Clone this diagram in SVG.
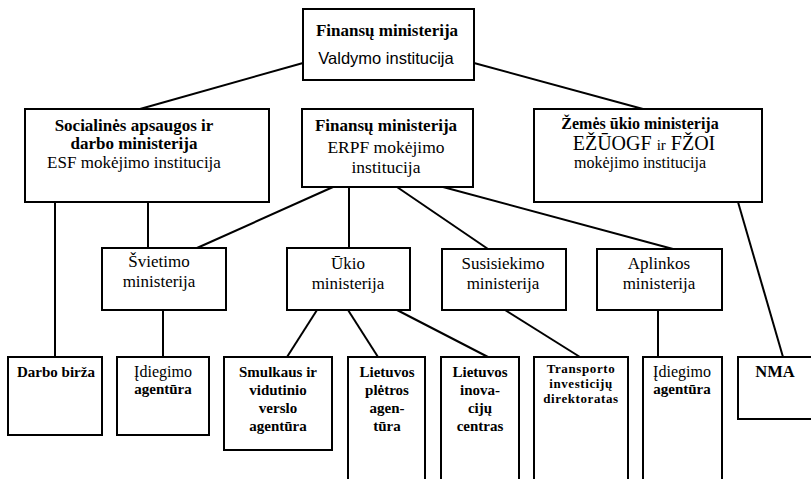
<svg xmlns="http://www.w3.org/2000/svg" width="811" height="479" viewBox="0 0 811 479">
<style>
.box{fill:#fff;stroke:#000;stroke-width:2}
.open{fill:none;stroke:#000;stroke-width:2}
.ln{stroke:#000;stroke-width:2;fill:none}
text{font-family:"Liberation Serif","Times New Roman",serif;text-anchor:middle;fill:#000}
.b{font-weight:bold}
.l{font-size:17px}
.s{font-size:15px}
.r{font-size:16px}
.t{font-size:13px;letter-spacing:0.6px}
</style>
<rect width="811" height="479" fill="#fff"/>
<g id="connectors">
<line class="ln" x1="303" y1="63" x2="140" y2="109"/>
<line class="ln" x1="474" y1="63" x2="643" y2="109"/>
<line class="ln" x1="148" y1="202" x2="148" y2="248"/>
<line class="ln" x1="55" y1="202" x2="55" y2="357"/>
<line class="ln" x1="333" y1="187" x2="197" y2="248"/>
<line class="ln" x1="349" y1="187" x2="349" y2="248"/>
<line class="ln" x1="397" y1="187" x2="488" y2="249"/>
<line class="ln" x1="443" y1="187" x2="673" y2="249"/>
<line class="ln" x1="738" y1="202" x2="783" y2="357"/>
<line class="ln" x1="163" y1="310" x2="163" y2="357"/>
<line class="ln" x1="317" y1="310" x2="287" y2="357"/>
<line class="ln" x1="348" y1="310" x2="378" y2="357"/>
<line class="ln" x1="397" y1="310" x2="488" y2="357"/>
<line class="ln" x1="505" y1="310" x2="580" y2="357"/>
<line class="ln" x1="658" y1="310" x2="658" y2="357"/>
</g>
<g id="valdymo">
<rect class="box" x="303" y="9" width="171" height="71"/>
<text class="b l" x="387" y="36">Finansų ministerija</text>
<text x="386" y="64" font-size="16.5" style="font-family:'Liberation Sans',Arial,sans-serif">Valdymo institucija</text>
</g>
<g id="socialines">
<rect class="box" x="25" y="109" width="244" height="93"/>
<text class="b l" x="134" y="131">Socialinės apsaugos ir</text>
<text class="b l" x="134" y="149">darbo ministerija</text>
<text class="l" x="134" y="168">ESF mokėjimo institucija</text>
</g>
<g id="erpf">
<rect class="box" x="302" y="109" width="171" height="78"/>
<text class="b l" x="386" y="131">Finansų ministerija</text>
<text x="386" y="153" font-size="17.5">ERPF mokėjimo</text>
<text x="386" y="173" font-size="17.5">institucija</text>
</g>
<g id="zemes">
<rect class="box" x="534" y="109" width="228" height="93"/>
<text class="b r" x="640" y="129">Žemės ūkio ministerija</text>
<text x="644" y="150" font-size="20">EŽŪOGF <tspan font-size="15">ir</tspan> FŽOI</text>
<text class="r" x="640" y="168">mokėjimo institucija</text>
</g>
<g id="svietimo">
<rect class="box" x="102" y="248" width="124" height="62"/>
<text class="l" x="159" y="267">Švietimo</text>
<text class="l" x="159" y="287">ministerija</text>
</g>
<g id="ukio">
<rect class="box" x="287" y="248" width="123" height="62"/>
<text class="l" x="348" y="269">Ūkio</text>
<text class="l" x="348" y="289">ministerija</text>
</g>
<g id="susisiekimo">
<rect class="box" x="442" y="249" width="124" height="61"/>
<text class="l" x="503" y="269">Susisiekimo</text>
<text class="l" x="503" y="289">ministerija</text>
</g>
<g id="aplinkos">
<rect class="box" x="597" y="249" width="125" height="61"/>
<text class="l" x="659" y="269">Aplinkos</text>
<text class="l" x="659" y="289">ministerija</text>
</g>
<g id="darbo">
<rect class="box" x="8" y="357" width="94" height="78"/>
<text class="b s" x="56" y="377">Darbo birža</text>
</g>
<g id="idiegimo1">
<rect class="box" x="117" y="357" width="92" height="78"/>
<text class="r" x="163" y="377">Įdiegimo</text>
<text class="b s" x="163" y="394">agentūra</text>
</g>
<g id="smulkaus">
<rect class="box" x="224" y="357" width="108" height="93"/>
<text class="b s" x="278" y="377">Smulkaus ir</text>
<text class="b s" x="278" y="395">vidutinio</text>
<text class="b s" x="278" y="413">verslo</text>
<text class="b s" x="278" y="431">agentūra</text>
</g>
<g id="lpa">
<path class="open" d="M348 479V357H425V479"/>
<text class="b s" x="387" y="377">Lietuvos</text>
<text class="b s" x="387" y="395">plėtros</text>
<text class="b s" x="387" y="413">agen-</text>
<text class="b s" x="387" y="431">tūra</text>
</g>
<g id="lic">
<path class="open" d="M441 479V357H519V479"/>
<text class="b s" x="480" y="377">Lietuvos</text>
<text class="b s" x="480" y="395">inova-</text>
<text class="b s" x="480" y="413">cijų</text>
<text class="b s" x="480" y="431">centras</text>
</g>
<g id="transporto">
<path class="open" d="M534 479V357H628V479"/>
<text class="b t" x="581" y="373">Transporto</text>
<text class="b t" x="581" y="388">investicijų</text>
<text class="b t" x="581" y="403">direktoratas</text>
</g>
<g id="idiegimo2">
<path class="open" d="M643 479V357H722V479"/>
<text class="r" x="682" y="377">Įdiegimo</text>
<text class="b s" x="682" y="394">agentūra</text>
</g>
<g id="nma">
<path class="box" d="M811 357H738V419H811"/>
<text class="b" x="775" y="377" font-size="16.5">NMA</text>
</g>
</svg>
